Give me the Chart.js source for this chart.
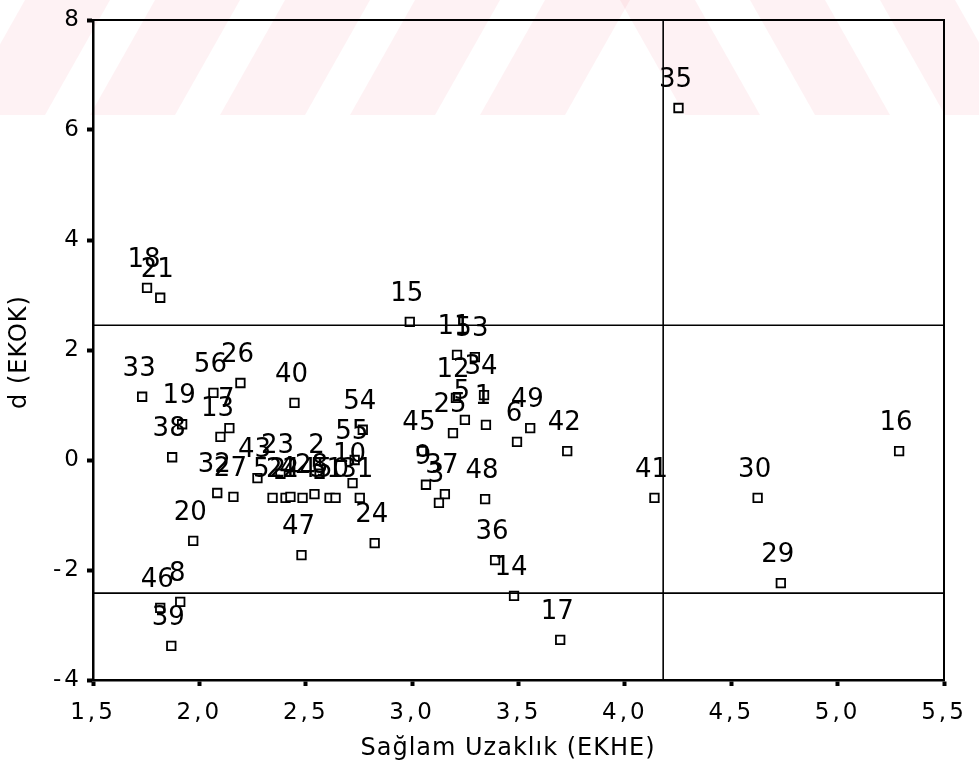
<!DOCTYPE html>
<html><head><meta charset="utf-8">
<script src="https://cdn.jsdelivr.net/npm/chart.js@4/dist/chart.umd.min.js"></script>
<style>html,body{margin:0;padding:0;background:#fff}canvas{display:block}</style>
</head><body>
<canvas id="c" width="979" height="771"></canvas>
<script>
const pointLabels = ['35','18','21','15','11','53','12','34','5','25','1','49','6','42','45','9','37','3','48','36','14','17','41','30','29','16','24','47','33','56','26','19','38','7','13','32','27','20','46','8','39','40','54','43','23','2','52','22','4','44','28','51','10','31','55','50'];
const xValues = [4.252,1.754,1.816,2.989,3.211,3.295,3.206,3.338,3.248,3.192,3.347,3.555,3.493,3.729,3.046,3.065,3.154,3.126,3.343,3.390,3.479,3.696,4.139,4.624,4.733,5.289,2.824,2.480,1.731,2.066,2.193,1.919,1.872,2.141,2.099,2.084,2.160,1.971,1.816,1.910,1.868,2.447,2.768,2.273,2.381,2.565,2.344,2.405,2.428,2.485,2.541,2.612,2.720,2.754,2.730,2.640];
const yValues = [6.40,3.13,2.95,2.51,1.91,1.87,1.13,1.18,0.73,0.49,0.64,0.58,0.33,0.16,0.16,-0.45,-0.62,-0.78,-0.71,-1.82,-2.47,-3.27,-0.69,-0.69,-2.24,0.16,-1.51,-1.73,1.15,1.22,1.40,0.65,0.05,0.58,0.42,-0.60,-0.67,-1.47,-2.69,-2.58,-3.38,1.04,0.55,-0.33,-0.25,-0.25,-0.69,-0.69,-0.67,-0.69,-0.62,-0.69,-0.42,-0.69,0.00,-0.69];
const xRef = [4.18];
const yRefs = [2.45, -2.42];
const xTicks = [1.5,2.0,2.5,3.0,3.5,4.0,4.5,5.0,5.5];
const xTitle = 'Sağlam Uzaklık (EKHE)';
const yTitle = 'd (EKOK)';

const bgPlugin = {
  id:'bg',
  beforeDraw(chart){
    const ctx = chart.ctx;
    ctx.save();
    ctx.fillStyle='#fff';
    ctx.fillRect(0,0,chart.width,chart.height);
    // faint watermark band at the top
    ctx.beginPath(); ctx.rect(0,0,chart.width,115); ctx.clip();
    ctx.fillStyle='rgba(240,90,120,0.08)';
    for(let b=-40;b<600;b+=130){
      ctx.beginPath();
      ctx.moveTo(b,115); ctx.lineTo(b+85,115); ctx.lineTo(b+150,0); ctx.lineTo(b+65,0); ctx.closePath(); ctx.fill();
    }
    for(let b=620;b<1000;b+=130){
      ctx.beginPath();
      ctx.moveTo(b,0); ctx.lineTo(b+75,0); ctx.lineTo(b+140,115); ctx.lineTo(b+65,115); ctx.closePath(); ctx.fill();
    }
    ctx.restore();
    ctx.letterSpacing='3px';
  }
};
const overlayPlugin = {
  id:'overlay',
  afterDatasetsDraw(chart){
    const ctx = chart.ctx, a = chart.chartArea;
    const xs = chart.scales.x, ys = chart.scales.y;
    ctx.save();
    ctx.letterSpacing='0px';
    ctx.strokeStyle='#000';
    ctx.lineWidth=2;
    ctx.beginPath();
    ctx.moveTo(a.left,a.top); ctx.lineTo(a.right,a.top); ctx.lineTo(a.right,a.bottom);
    ctx.stroke();
    ctx.lineWidth=1.6;
    xRef.forEach(v=>{const p=xs.getPixelForValue(v); ctx.beginPath(); ctx.moveTo(p,a.top); ctx.lineTo(p,a.bottom); ctx.stroke();});
    yRefs.forEach(v=>{const p=ys.getPixelForValue(v); ctx.beginPath(); ctx.moveTo(a.left,p); ctx.lineTo(a.right,p); ctx.stroke();});
    ctx.fillStyle='#000';
    ctx.font='26px "DejaVu Sans"';
    ctx.textAlign='center';
    ctx.textBaseline='middle';
    const meta = chart.getDatasetMeta(0);
    meta.data.forEach((el,i)=>{ ctx.fillText(pointLabels[i], el.x-3, el.y-28); });
    // axis titles
    ctx.letterSpacing='1px';
    ctx.font='24px "DejaVu Sans"';
    ctx.fillText(xTitle, 508, 749);
    ctx.translate(20, 352);
    ctx.rotate(-Math.PI/2);
    ctx.fillText(yTitle, 0, 0);
    ctx.restore();
  }
};

new Chart(document.getElementById('c'), {
  type:'scatter',
  data:{datasets:[{
    data: xValues.map((x,i)=>({x:x,y:yValues[i]})),
    pointStyle:'rect', pointRadius:6, pointHoverRadius:6,
    borderColor:'#000', backgroundColor:'#fff', borderWidth:1.8
  }]},
  options:{
    responsive:false, animation:false, devicePixelRatio:1,
    layout:{padding:{top:20,right:35,left:0,bottom:0}},
    plugins:{legend:{display:false},tooltip:{enabled:false}},
    scales:{
      x:{type:'linear',min:1.5,max:5.5,
        afterBuildTicks(s){ s.ticks = xTicks.map(v=>({value:v})); },
        afterFit(s){ s.height=91; },
        ticks:{color:'#000',font:{family:'DejaVu Sans',size:23},padding:13,
          callback:v=>v.toFixed(1).replace('.',',')},
        grid:{drawOnChartArea:false,drawTicks:true,tickLength:6,tickWidth:4,tickColor:'#000'},
        border:{display:true,color:'#000',width:2.5}
      },
      y:{type:'linear',min:-4,max:8,
        ticks:{stepSize:2,color:'#000',font:{family:'DejaVu Sans',size:23},padding:5},
        afterFit(s){ s.width=93; },
        grid:{drawOnChartArea:false,drawTicks:true,tickLength:6,tickWidth:4,tickColor:'#000'},
        border:{display:true,color:'#000',width:2.5}
      }
    }
  },
  plugins:[bgPlugin,overlayPlugin]
});
</script>
</body></html>
